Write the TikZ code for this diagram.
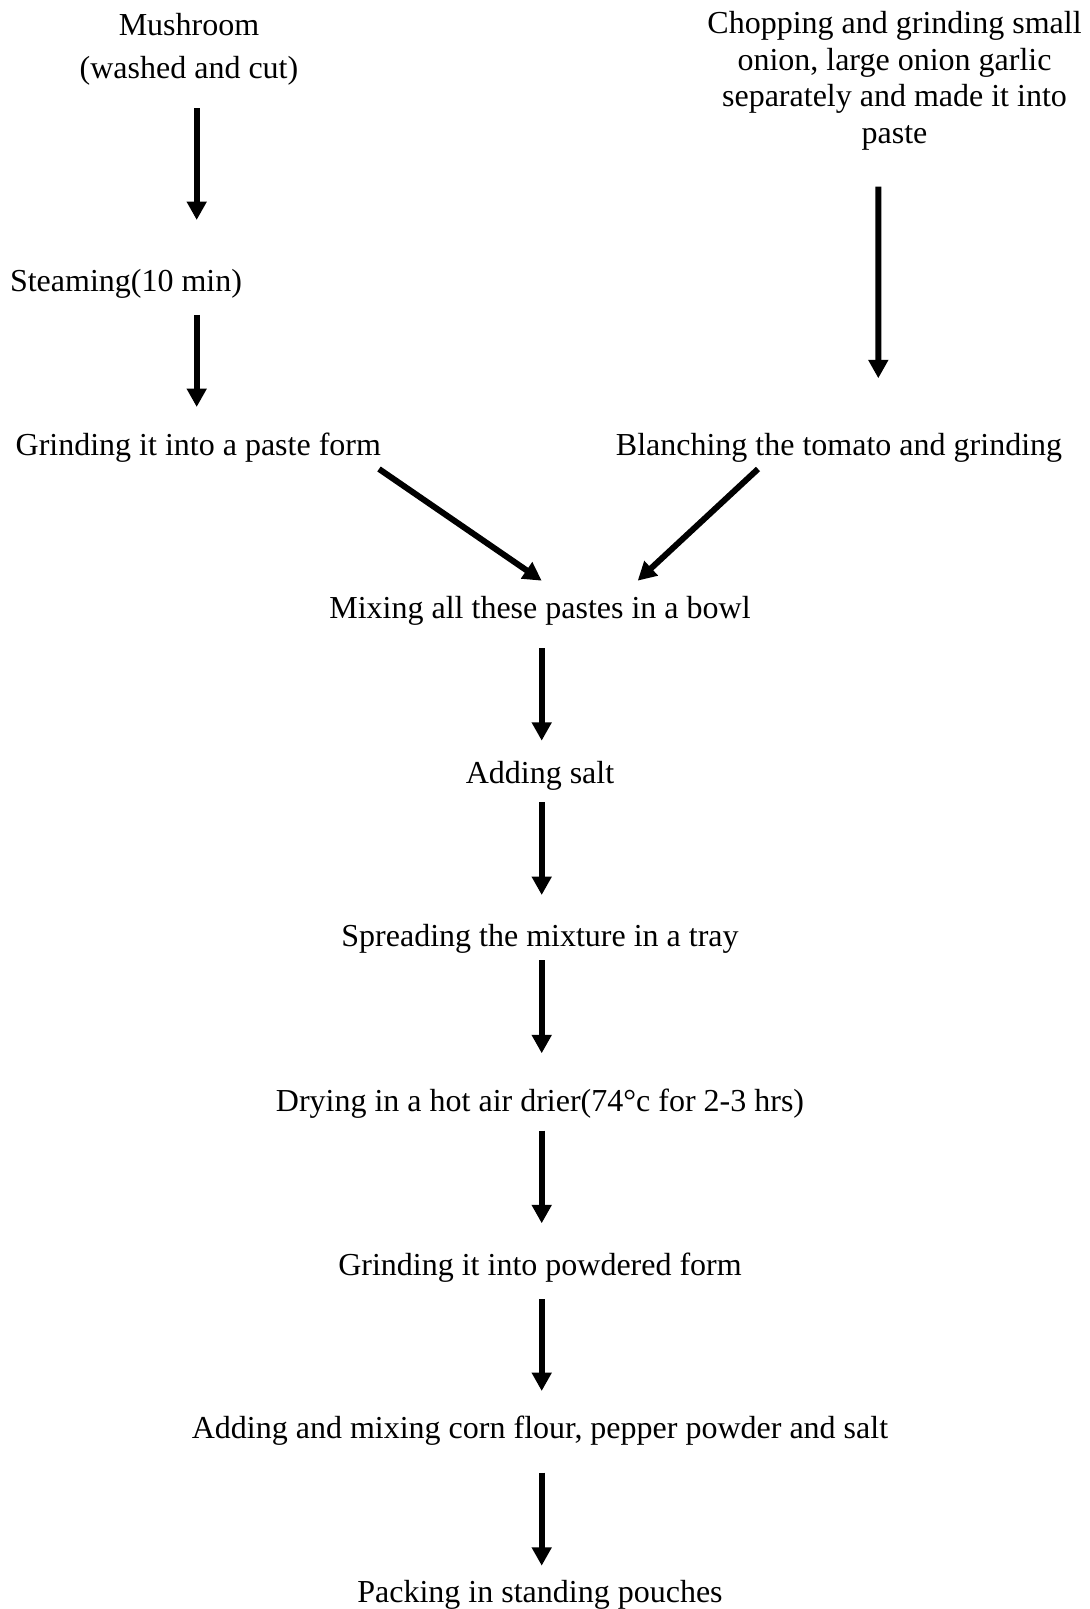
\documentclass[tikz,border=0pt]{standalone}
\usepackage{fontspec}
\setmainfont{Liberation Serif}
\usetikzlibrary{arrows.meta,calc}
\begin{document}
\begin{tikzpicture}[x=0.5pt,y=-0.5pt,
  txt/.style={inner sep=0pt, font=\fontsize{16pt}{19pt}\selectfont},
  arr/.style={line width=3pt,-{Triangle[length=9.2pt,width=9.5pt]}}]
\useasboundingbox (0,0) rectangle (1090,1609);
% left branch
\node[txt,align=center,anchor=south,font=\fontsize{16pt}{21.15pt}\selectfont] (m) at (189,85.5) {Mushroom\\(washed and cut)};
\node[txt,anchor=base] (st) at (126,292) {Steaming(10 min)};
\node[txt,anchor=base] (gp) at (198.3,455) {Grinding it into a paste form};
% right branch
\node[txt,align=center,anchor=south,font=\fontsize{16pt}{18.33pt}\selectfont] (ch) at (894.5,150.6) {Chopping and grinding small\\onion, large onion garlic\\separately and made it into\\paste};
\node[txt,anchor=base] (bl) at (839,455) {Blanching the tomato and grinding};
% main column
\node[txt,anchor=base] (mx) at (540,618) {Mixing all these pastes in a bowl};
\node[txt,anchor=base] (as) at (540,783.7) {Adding salt};
\node[txt,anchor=base] (sp) at (540,946.3) {Spreading the mixture in a tray};
\node[txt,anchor=base] (dr) at (540,1111) {Drying in a hot air drier(74°c for 2-3 hrs)};
\node[txt,anchor=base] (gw) at (540,1275.3) {Grinding it into powdered form};
\node[txt,anchor=base] (am) at (540,1438) {Adding and mixing corn flour, pepper powder and salt};
\node[txt,anchor=base] (pk) at (540,1602) {Packing in standing pouches};
% connectors
\draw[arr] ($(m.south)+(7.7,22.8)$) -- ($(st.base)+(70.7,-72)$);
\draw[arr] ($(st.base)+(70.7,23)$) -- ($(gp.base)+(-1.6,-48)$);
\draw[arr] ($(gp.base)+(180.7,14)$) -- ($(mx.base)+(1.7,-37.3)$);
\draw[arr] ($(ch.south)+(-16.2,36.1)$) -- ($(bl.base)+(39.3,-76.7)$);
\draw[arr] ($(bl.base)+(-81,14)$) -- ($(mx.base)+(97.7,-37.3)$);
\draw[arr] ($(mx.base)+(1.7,30.3)$) -- ($(as.base)+(1.7,-43)$);
\draw[arr] ($(as.base)+(1.7,18.6)$) -- ($(sp.base)+(1.7,-51.3)$);
\draw[arr] ($(sp.base)+(1.7,13.7)$) -- ($(dr.base)+(1.7,-57.7)$);
\draw[arr] ($(dr.base)+(1.7,19.7)$) -- ($(gw.base)+(1.7,-52)$);
\draw[arr] ($(gw.base)+(1.7,23.7)$) -- ($(am.base)+(1.7,-47)$);
\draw[arr] ($(am.base)+(1.7,34.7)$) -- ($(pk.base)+(1.7,-36.3)$);
\end{tikzpicture}
\end{document}
